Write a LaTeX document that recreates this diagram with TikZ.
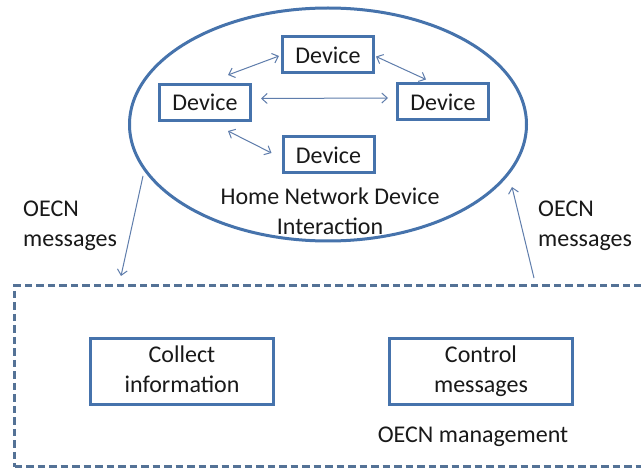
\documentclass[tikz,border=0pt]{standalone}
\usepackage{fontspec}
\setmainfont{Carlito}
\usetikzlibrary{arrows.meta,shapes.geometric}
\definecolor{boxblue}{RGB}{70,115,172}
\definecolor{arrblue}{RGB}{95,125,172}
\definecolor{dashblue}{RGB}{84,114,150}
\definecolor{txt}{RGB}{25,25,25}
\tikzset{
  devbox/.style={draw=boxblue, line width=3pt, minimum width=91pt, minimum height=36pt, inner sep=0pt, font=\fontsize{24}{29}\selectfont, text=txt},
  bigbox/.style={draw=boxblue, line width=3pt, minimum width=183pt, minimum height=66pt, inner sep=0pt, align=center, font=\fontsize{24}{30}\selectfont, text=txt},
  lbl/.style={inner sep=0pt, font=\fontsize{24}{30}\selectfont, text=txt},
  darr/.style={draw=arrblue, line width=1pt, {Straight Barb[length=5.5pt,width=10pt]}-{Straight Barb[length=5.5pt,width=10pt]}},
  sarr/.style={draw=arrblue, line width=1pt, -{Straight Barb[length=5.5pt,width=10pt]}},
}
\begin{document}
\begin{tikzpicture}[x=1pt,y=-1pt]
\useasboundingbox (0,0) rectangle (641,468);
\clip (0,0) rectangle (641,468);
\fill[white] (0,0) rectangle (641,468);
% ellipse
\node[draw=boxblue, line width=3pt, ellipse, minimum width=397pt, minimum height=233pt, inner sep=0pt] (E) at (328,124.5) {};
% devices
\node[devbox] (T) at (328,55) {Device};
\node[devbox] (L) at (205,102.5) {Device};
\node[devbox] (R) at (443,102) {Device};
\node[devbox] (B) at (328.5,155) {Device};
\draw[darr] ([shift={(23pt,8pt)}]L.north) -- ([shift={(-2pt,-1pt)}]T.west);
\draw[darr] ([shift={(1pt,-1.5pt)}]T.east) -- ([shift={(-17pt,3pt)}]R.north);
\draw[darr] ([shift={(9pt,4pt)}]L.east) -- ([shift={(-8pt,4pt)}]R.west);
\draw[darr] ([shift={(23pt,-9pt)}]L.south) -- ([shift={(-10pt,2pt)}]B.west);
\node[lbl, align=center, anchor=base] (HN) at (330,235) {Home Network Device\\Interaction};
% management box
\node[draw=dashblue, line width=3pt, dash pattern=on 7.5pt off 4pt, minimum width=660pt, minimum height=181pt, inner sep=0pt, anchor=north west] (M) at (13,284) {};
\node[bigbox] (C1) at (182,371.5) {Collect\strut\\information\strut};
\node[bigbox] (C2) at (481,371.5) {Control\strut\\messages\strut};
\node[lbl, anchor=base] (OM) at (473,442) {OECN management};
% side labels
\node[lbl, align=left, anchor=base west] (OL) at (23,247) {OECN\\messages};
\node[lbl, align=left, anchor=base west] (OR) at (538,247) {OECN\\messages};
% connectors
\coordinate (e1) at (143,176);
\coordinate (m1) at (121,276);
\coordinate (m2) at (534,278);
\coordinate (e2) at (512,187);
\draw[sarr] (e1) -- (m1);
\draw[sarr] (m2) -- (e2);
\end{tikzpicture}
\end{document}
